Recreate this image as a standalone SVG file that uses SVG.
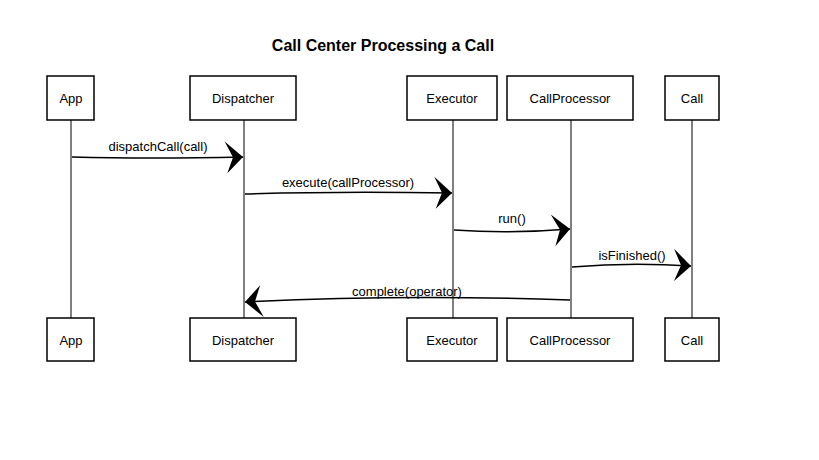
<svg xmlns="http://www.w3.org/2000/svg" width="819" height="460" viewBox="0 0 819 460">
<style>
.box{fill:#fff;stroke:#000;stroke-width:1.5}
.life{stroke:#000;stroke-width:1;fill:none}
.msg{stroke:#000;stroke-width:1.5;fill:none}
.t{font-family:"Liberation Sans",Arial,sans-serif;font-size:13px;fill:#000;text-anchor:middle}
.title{font-family:"Liberation Sans",Arial,sans-serif;font-size:16px;font-weight:bold;fill:#000;text-anchor:middle}
</style>
<defs>
<marker id="ah" markerUnits="userSpaceOnUse" markerWidth="24" markerHeight="34" viewBox="-20 -17 22 34" refX="0" refY="0" orient="auto">
<path d="M0,0 L-18,-16 L-10,0 L-16,16 Z" fill="#000"/>
</marker>
</defs>
<rect width="819" height="460" fill="#fff"/>
<text class="title" x="383" y="51">Call Center Processing a Call</text>
<g id="lifelines">
<line class="life" x1="71" y1="120" x2="71" y2="318"/>
<line class="life" x1="244" y1="120" x2="244" y2="318"/>
<line class="life" x1="453" y1="120" x2="453" y2="318"/>
<line class="life" x1="571" y1="120" x2="571" y2="318"/>
<line class="life" x1="692" y1="120" x2="692" y2="318"/>
</g>
<g id="App">
<rect class="box" x="47" y="76" width="47" height="44"/>
<text class="t" x="71" y="103">App</text>
<rect class="box" x="47" y="318" width="47" height="43"/>
<text class="t" x="71" y="345">App</text>
</g>
<g id="Dispatcher">
<rect class="box" x="190" y="76" width="106" height="44"/>
<text class="t" x="243" y="103">Dispatcher</text>
<rect class="box" x="190" y="318" width="106" height="43"/>
<text class="t" x="243" y="345">Dispatcher</text>
</g>
<g id="Executor">
<rect class="box" x="407" y="76" width="90" height="44"/>
<text class="t" x="452" y="103">Executor</text>
<rect class="box" x="407" y="318" width="90" height="43"/>
<text class="t" x="452" y="345">Executor</text>
</g>
<g id="CallProcessor">
<rect class="box" x="507" y="76" width="126" height="44"/>
<text class="t" x="570" y="103">CallProcessor</text>
<rect class="box" x="507" y="318" width="126" height="43"/>
<text class="t" x="570" y="345">CallProcessor</text>
</g>
<g id="Call">
<rect class="box" x="665" y="76" width="54" height="44"/>
<text class="t" x="692" y="103">Call</text>
<rect class="box" x="665" y="318" width="54" height="43"/>
<text class="t" x="692" y="345">Call</text>
</g>
<g id="connectors">
<path class="msg" d="M72,157 Q150,159 243,157" marker-end="url(#ah)"/>
<text class="t" x="158" y="151">dispatchCall(call)</text>
<path class="msg" d="M245,194 Q340,191 452,193" marker-end="url(#ah)"/>
<text class="t" x="348" y="187">execute(callProcessor)</text>
<path class="msg" d="M454,230 Q510,234 570,229" marker-end="url(#ah)"/>
<text class="t" x="512" y="223">run()</text>
<path class="msg" d="M572,267 Q630,262 691,266" marker-end="url(#ah)"/>
<text class="t" x="632" y="260">isFinished()</text>
<path class="msg" d="M570,300 Q400,294 245,302" marker-end="url(#ah)"/>
<text class="t" x="407" y="296">complete(operator)</text>
</g>
</svg>
